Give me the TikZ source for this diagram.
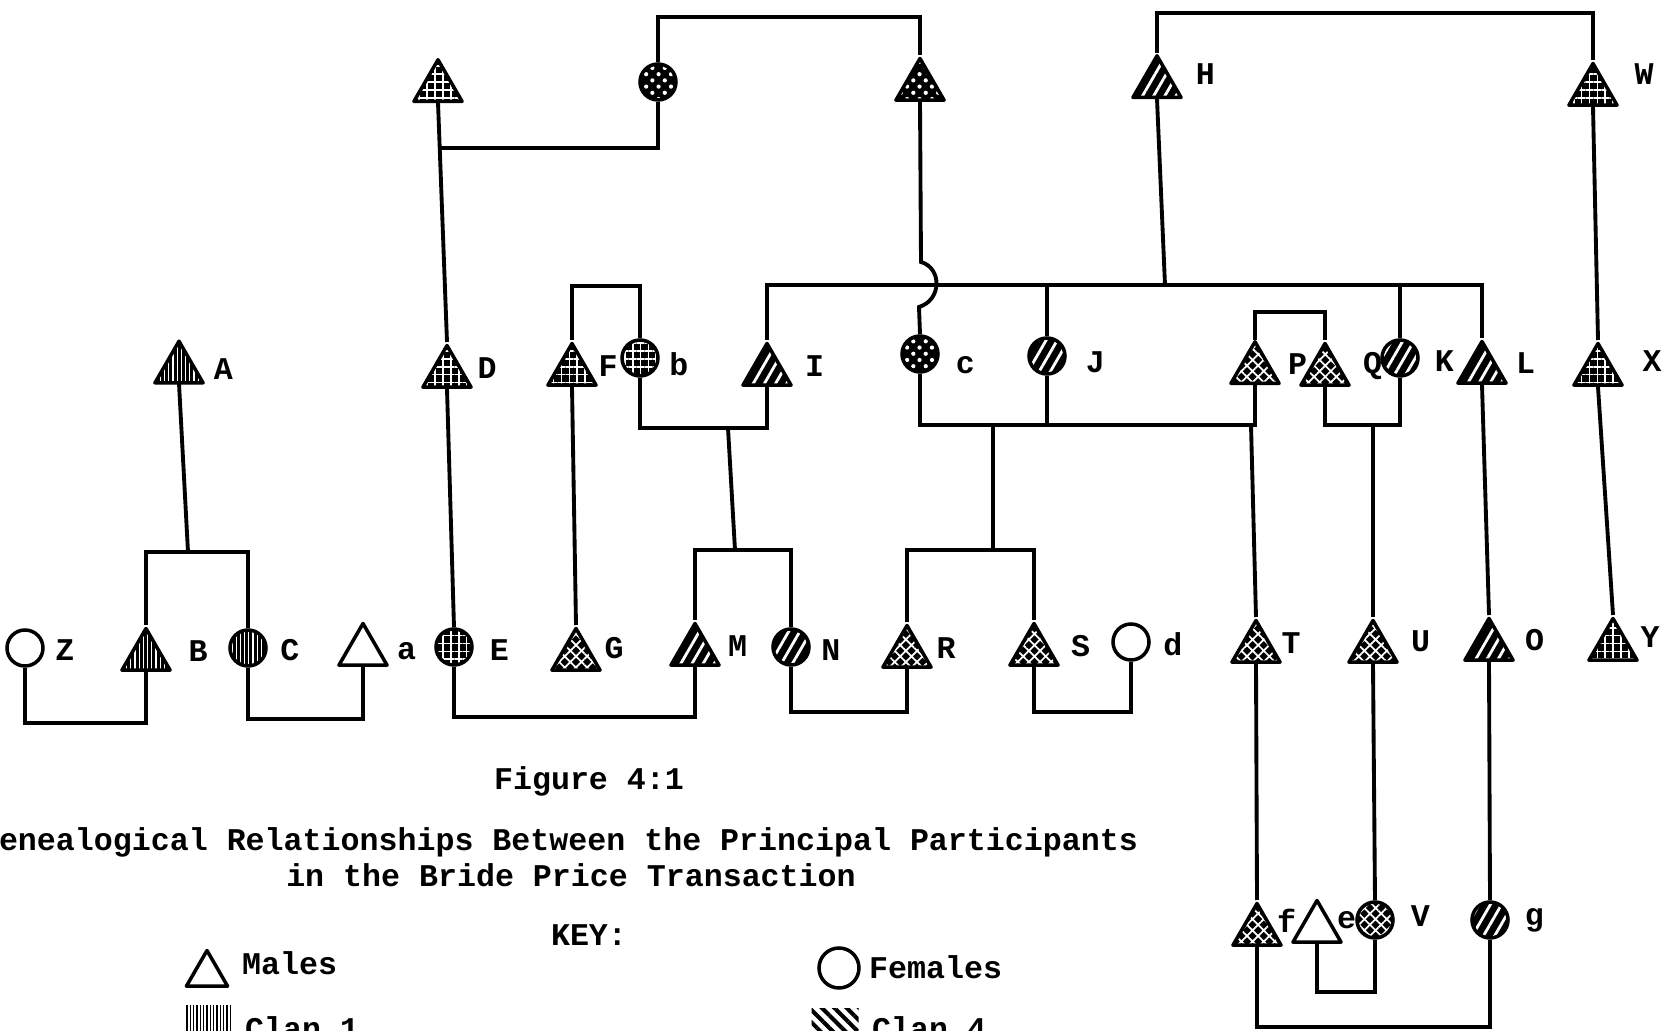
\documentclass[tikz,border=0pt]{standalone}
\usepackage{fontspec}
\setmonofont{Liberation Mono}
\usetikzlibrary{shapes.geometric, patterns.meta, positioning}

\begin{document}
\begin{tikzpicture}[x=0.2mm, y=-0.2mm,
    font=\ttfamily\bfseries\fontsize{18}{19}\selectfont,
    male/.style={regular polygon, regular polygon sides=3, minimum size=11.1mm, inner sep=0pt, anchor=north, draw=black, line width=2pt, line join=round},
    female/.style={circle, minimum size=7.2mm, inner sep=0pt, draw=black, line width=2pt},
    open/.style={fill=white},
    inked/.style={preaction={fill=black}, pattern color=white},
    clan1/.style={inked, pattern={Lines[angle=90, distance=2.4pt, line width=0.7pt]}},
    clan4/.style={inked, pattern={Lines[angle=60, distance=5.5pt, line width=1.6pt]}},
    clangrid/.style={inked, pattern={Hatch[angle=0, distance=4.5pt, line width=1pt]}},
    clandots/.style={inked, pattern={Dots[angle=45, distance=5pt, radius=1.2pt]}},
    clanhatch/.style={inked, pattern={Hatch[angle=45, distance=4.5pt, line width=1pt]}},
    swatch/.style={rectangle, inner sep=0pt, minimum width=9.4mm, minimum height=8mm, pattern color=black},
    lbl/.style={inner sep=1pt, xshift=#1}, lbl/.default=2.7mm,
    mlbl/.style={lbl=#1, yshift=1mm}, mlbl/.default=2.7mm,
    link/.style={line width=2.2pt}]

    \path[use as bounding box, fill=white] (0,0) rectangle (1670,1031);

    % Eldest generation
    \node[male, clangrid] (gD) at (438,58) {};
    \node[female, clandots] (gM) at (658,82) {};
    \node[male, clandots] (gc) at (920,55) {};
    \node[male, clan4, label={[mlbl=3.8mm, yshift=0.9mm]right:H}] (H) at (1157,53) {};
    \node[male, clangrid, label={[mlbl=4.3mm, yshift=2.4mm]right:W}] (W) at (1593,60) {};

    % Second generation
    \node[male, clan1, label={[mlbl=3.2mm, yshift=-1mm]right:A}] (A) at (179,340) {};
    \node[male, clangrid, label={[mlbl=2.1mm]right:D}] (D) at (447,342) {};
    \node[male, clangrid, label={[mlbl=1.3mm]right:F}] (F) at (572,340) {};
    \node[female, clangrid, label={[lbl=1.5mm, yshift=-1.2mm]right:b}] (b) at (640,358) {};
    \node[male, clan4, label={[mlbl=3.6mm]right:I}] (I) at (767,340) {};
    \node[female, clandots, label={[lbl=2.8mm, yshift=-2.2mm]right:c}] (c) at (920,354) {};
    \node[female, clan4, label={[lbl=3.4mm, yshift=-1.2mm]right:J}] (J) at (1047,356) {};
    \node[male, clanhatch, label={[mlbl=2.8mm]right:P}] (P) at (1255,340) {};
    \node[male, clanhatch, label={[mlbl=3.6mm]right:Q}] (Q) at (1325,340) {};
    \node[female, clan4, label={[lbl=2.6mm, yshift=-0.6mm]right:K}] (K) at (1400,358) {};
    \node[male, clan4, label={[mlbl=2.8mm, yshift=0.2mm]right:L}] (L) at (1482,338) {};
    \node[male, clangrid, label={[mlbl=4.9mm, yshift=1.1mm]right:X}] (X) at (1598,340) {};

    % Third generation
    \node[female, open, label={[lbl=1.7mm, yshift=-0.5mm]right:Z}] (Z) at (25,648) {};
    \node[male, clan1, label={[mlbl=4.5mm]right:B}] (B) at (146,625) {};
    \node[female, clan1, label={[lbl=2.1mm, yshift=-0.5mm]right:C}] (C) at (248,648) {};
    \node[male, open, label={[mlbl=2.8mm, yshift=-1mm]right:a}] (a) at (363,620) {};
    \node[female, clangrid, label={[lbl=2.8mm, yshift=-0.6mm]right:E}] (E) at (454,647) {};
    \node[male, clanhatch, label={[mlbl=1.7mm, yshift=0.7mm]right:G}] (G) at (576,625) {};
    \node[male, clan4, label={[mlbl=2.6mm]right:M}] (M) at (695,620) {};
    \node[female, clan4, label={[lbl=1.7mm, yshift=-0.6mm]right:N}] (N) at (791,647) {};
    \node[male, clanhatch, label={[mlbl=1.9mm]right:R}] (R) at (907,622) {};
    \node[male, clanhatch, label={[mlbl=3.4mm]right:S}] (S) at (1034,620) {};
    \node[female, open, label={[lbl=2.1mm, yshift=-0.4mm]right:d}] (d) at (1131,642) {};
    \node[male, clanhatch, label={[mlbl=1.1mm]right:T}] (T) at (1256,617) {};
    \node[male, clanhatch, label={[mlbl=3.6mm, yshift=0.4mm]right:U}] (U) at (1373,617) {};
    \node[male, clan4, label={[mlbl=3.2mm, yshift=0.3mm]right:O}] (O) at (1489,615) {};
    \node[male, clangrid, label={[mlbl=1.5mm, yshift=0.9mm]right:Y}] (Y) at (1613,615) {};

    % Youngest generation
    \node[male, clanhatch, label={[mlbl=0mm, yshift=1.1mm]right:f}] (f) at (1257,900) {};
    \node[male, open, label={[mlbl=0mm, yshift=0.7mm]right:e}] (e) at (1317,897) {};
    \node[female, clanhatch, label={[lbl=2.8mm, yshift=0.8mm]right:V}] (V) at (1375,920) {};
    \node[female, clan4, label={[lbl=2.6mm]right:g}] (g) at (1490,920) {};

    % Junctions on the bars
    \coordinate (cplD) at (440,148);
    \coordinate (sibBC) at (188,552);
    \coordinate (cplbI) at (728,428);
    \coordinate (sibMN) at (735,550);
    \coordinate (sibH) at (1165,285);
    \coordinate (cplcP) at (993,425);
    \coordinate (sibRS) at (993,550);
    \coordinate (cplcT) at (1251,425);
    \coordinate (cplQK) at (1373,425);

    % Relations
    \draw[link] (gM.north) -- ++(0,-45) -| (gc.north);
    \draw[link] (gD.south) -- (D.north);
    \draw[link] (gM.south) |- (cplD);
    \draw[link] (H.north) -- ++(0,-40) -| (W.north);
    \draw[link] (gc.south) -- (921,262) .. controls (942,268) and (942,300) .. (919,307) -- (c.north);
    \draw[link] (I.north) -- ++(0,-55) -| (L.north);
    \draw[link] (sibH) -- (H.south);
    \draw[link] (J.north) -- (J.north |- sibH);
    \draw[link] (K.north) -- (K.north |- sibH);
    \draw[link] (J.south) -- (J.south |- cplcP);
    \draw[link] (W.south) -- (X.north);

    \draw[link] (F.north) -- ++(0,-54) -| (b.north);
    \draw[link] (F.south) -- (G.north);
    \draw[link] (b.south) |- (cplbI) -| (I.south);
    \draw[link] (cplbI) -- (sibMN);
    \draw[link] (M.north) |- (sibMN) -| (N.north);
    \draw[link] (D.south) -- (E.north);
    \draw[link] (E.south) -- ++(0,50) -| (M.south);
    \draw[link] (N.south) -- ++(0,45) -| (R.south);
    \draw[link] (S.south) -- ++(0,45) -| (d.south);
    \draw[link] (Z.south) -- ++(0,55) -| (B.south);
    \draw[link] (C.south) -- ++(0,51) -| (a.south);
    \draw[link] (A.south) -- (sibBC);
    \draw[link] (B.north) |- (sibBC) -| (C.north);

    \draw[link] (c.south) |- (cplcP) -| (P.south);
    \draw[link] (cplcP) -- (sibRS);
    \draw[link] (R.north) |- (sibRS) -| (S.north);
    \draw[link] (cplcT) -- (T.north);
    \draw[link] (P.north) -- ++(0,-28) -| (Q.north);
    \draw[link] (Q.south) |- (cplQK) -| (K.south);
    \draw[link] (cplQK) -- (U.north);
    \draw[link] (L.south) -- (O.north);
    \draw[link] (X.south) -- (Y.north);
    \draw[link] (T.south) -- (f.north);
    \draw[link] (U.south) -- (V.north);
    \draw[link] (O.south) -- (g.north);
    \draw[link] (e.south) -- ++(0,48) -| (V.south);
    \draw[link] (f.south) -- ++(0,80) -| (g.south);

    % Caption and key
    \node (fig) at (589,781) {Figure 4:1};
    \node (title) at (559,842) {Genealogical Relationships Between the Principal Participants};
    \node (subtitle) at (571,875) {in the Bride Price Transaction};
    \node (key) at (589,935) {KEY:};
    \node[male, open, minimum size=9.5mm] (kmale) at (207,947) {};
    \node[anchor=west] (kmaletxt) at (236,963) {Males};
    \node[female, open, minimum size=8mm] (kfemale) at (839,968) {};
    \node[anchor=west] (kfemaletxt) at (863,967) {Females};
    \node[swatch, pattern={Lines[angle=90, distance=1.9pt, line width=0.8pt]}] (kclan1) at (209,1025) {};
    \node[anchor=west] (kclan1txt) at (239,1028) {Clan 1};
    \node[swatch, pattern={Lines[angle=-45, distance=5pt, line width=2.3pt]}] (kclan4) at (835,1028) {};
    \node[anchor=west] (kclan4txt) at (866,1028) {Clan 4};
\end{tikzpicture}
\end{document}
